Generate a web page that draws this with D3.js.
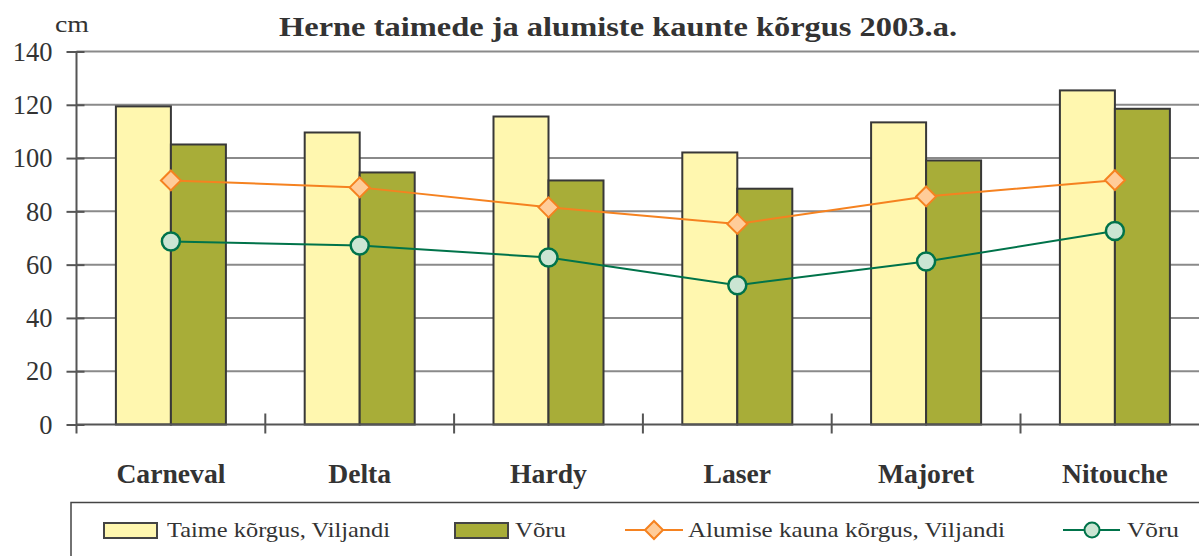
<!DOCTYPE html>
<html><head><meta charset="utf-8">
<script src="https://cdn.jsdelivr.net/npm/d3@7"></script>
<style>
html,body{margin:0;padding:0;background:#fff;overflow:hidden}
svg{display:block}
svg text{font-family:'Liberation Serif','Times New Roman',serif !important}
</style></head>
<body>
<svg id="chart" width="1199" height="556"></svg>
<script>
const categories = ["Carneval","Delta","Hardy","Laser","Majoret","Nitouche"];
const taimeViljandi = [119.4, 109.6, 115.6, 102.1, 113.4, 125.4];
const taimeVoru = [105.1, 94.6, 91.6, 88.5, 99.1, 118.5];
const kaunViljandi = [91.6, 89.0, 81.5, 75.3, 85.6, 91.7];
const kaunVoru = [68.7, 67.2, 62.7, 52.3, 61.2, 72.6];
const yTicks = [0,20,40,60,80,100,120,140];
const seriesNames = ["Taime kõrgus, Viljandi","Võru","Alumise kauna kõrgus, Viljandi","Võru"];
const titleText = "Herne taimede ja alumiste kaunte kõrgus 2003.a.";
const unitText = "cm";

const svg = d3.select("#chart");
const left = 76.5, bandW = 188.8;
const x = d3.scaleBand().domain(categories).range([left, left + bandW*categories.length]).paddingInner(0).paddingOuter(0);
const y = d3.scaleLinear().domain([0,140]).range([424.5, 51.5]);
const barW = 55;

function squeeze(sel, factor){
  sel.each(function(){
    const w = this.getComputedTextLength();
    d3.select(this).attr("textLength", w*factor).attr("lengthAdjust","spacingAndGlyphs");
  });
}

// gridlines
svg.append("g").selectAll("line").data(yTicks.filter(d=>d>0)).join("line")
  .attr("x1", left).attr("x2", 1199)
  .attr("y1", d=>y(d)).attr("y2", d=>y(d))
  .attr("stroke","#8a8a8a").attr("stroke-width",2);

// bars
const colorsBar = ["#FFF7AF","#A8AD38"];
[taimeViljandi, taimeVoru].forEach((arr, si) => {
  svg.append("g").selectAll("rect").data(arr).join("rect")
    .attr("x", (d,i)=> x(categories[i]) + x.bandwidth()/2 - barW + si*barW)
    .attr("y", d=>y(d))
    .attr("width", barW)
    .attr("height", d=>y(0)-y(d))
    .attr("fill", colorsBar[si])
    .attr("stroke","#383838").attr("stroke-width",2);
});

// y axis
const yAxis = d3.axisLeft(y).tickValues(yTicks).tickSize(10).tickPadding(14);
const gy = svg.append("g").attr("transform",`translate(${left},0)`).call(yAxis);
gy.attr("font-family", null);
gy.select(".domain").attr("stroke","#555").attr("stroke-width",2).attr("d",`M0,${y(140)}V${y(0)}`);
gy.selectAll(".tick line").attr("stroke","#555").attr("stroke-width",2).attr("x2",-10).attr("x1",8);
gy.selectAll(".tick text").attr("font-size",26.5).attr("fill","#333").attr("x",-24).attr("dy","0.33em");

// x axis
const xAxisG = svg.append("g").attr("transform",`translate(0,${y(0)})`);
xAxisG.append("line").attr("x1",left).attr("x2",1199).attr("y1",0).attr("y2",0).attr("stroke","#555").attr("stroke-width",2);
const boundaries = categories.map(c=>x(c)).concat([x(categories[categories.length-1])+x.bandwidth()]);
xAxisG.selectAll("line.tk").data(boundaries).join("line").attr("class","tk")
  .attr("x1",d=>d).attr("x2",d=>d).attr("y1",d=> d===left?0:-11).attr("y2",9)
  .attr("stroke","#555").attr("stroke-width",2);
const catLabels = xAxisG.selectAll("text").data(categories).join("text")
  .attr("x", d=>x(d)+x.bandwidth()/2).attr("y", 58.5)
  .attr("text-anchor","middle").attr("font-weight","bold").attr("font-size",28).attr("fill","#333")
  .text(d=>d);
{
  const w0 = catLabels.filter(d=>d==="Carneval").node().getComputedTextLength();
  squeeze(catLabels, 109/w0);
}

// lines
const line = d3.line().x((d,i)=>x(categories[i])+x.bandwidth()/2).y(d=>y(d));
svg.append("path").datum(kaunViljandi).attr("d",line).attr("fill","none").attr("stroke","#F58220").attr("stroke-width",2);
svg.append("path").datum(kaunVoru).attr("d",line).attr("fill","none").attr("stroke","#00734A").attr("stroke-width",2);
const diamond = (cx,cy,r)=>`M${cx},${cy-r}L${cx+r},${cy}L${cx},${cy+r}L${cx-r},${cy}Z`;
svg.append("g").selectAll("path").data(kaunViljandi).join("path")
  .attr("d",(d,i)=>diamond(x(categories[i])+x.bandwidth()/2, y(d), 10))
  .attr("fill","#FFCC99").attr("stroke","#F58220").attr("stroke-width",2);
svg.append("g").selectAll("circle").data(kaunVoru).join("circle")
  .attr("cx",(d,i)=>x(categories[i])+x.bandwidth()/2).attr("cy",d=>y(d)).attr("r",9)
  .attr("fill","#CBE5D3").attr("stroke","#00734A").attr("stroke-width",2.5);

// title and unit
const title = svg.append("text").attr("x",279).attr("y",36)
  .attr("font-weight","bold").attr("font-size",28).attr("fill","#333").text(titleText);
title.attr("textLength",678).attr("lengthAdjust","spacingAndGlyphs");
svg.append("text").attr("x",55).attr("y",32).attr("font-size",24).attr("fill","#333").text(unitText)
  .attr("textLength",34).attr("lengthAdjust","spacingAndGlyphs");

// legend
const lg = svg.append("g");
lg.append("rect").attr("x",71).attr("y",502.5).attr("width",1140).attr("height",80)
  .attr("fill","#fff").attr("stroke","#444").attr("stroke-width",1.5);
const ly = 530, ty = 537;
const legText = (xx, txt, w) => lg.append("text").attr("x",xx).attr("y",ty).attr("font-size",21).attr("fill","#333")
  .text(txt).attr("textLength",w).attr("lengthAdjust","spacingAndGlyphs");
lg.append("rect").attr("x",104).attr("y",523).attr("width",53).attr("height",15).attr("fill",colorsBar[0]).attr("stroke","#444").attr("stroke-width",2);
legText(167, seriesNames[0], 223);
lg.append("rect").attr("x",455).attr("y",523).attr("width",53).attr("height",15).attr("fill",colorsBar[1]).attr("stroke","#444").attr("stroke-width",2);
legText(515, seriesNames[1], 51);
lg.append("line").attr("x1",625).attr("x2",683).attr("y1",ly).attr("y2",ly).attr("stroke","#F58220").attr("stroke-width",2);
lg.append("path").attr("d",diamond(654,ly,9)).attr("fill","#FFCC99").attr("stroke","#F58220").attr("stroke-width",2);
legText(688, seriesNames[2], 317);
lg.append("line").attr("x1",1063).attr("x2",1120).attr("y1",ly).attr("y2",ly).attr("stroke","#00734A").attr("stroke-width",2);
lg.append("circle").attr("cx",1092).attr("cy",ly).attr("r",7.5).attr("fill","#CBE5D3").attr("stroke","#00734A").attr("stroke-width",2);
legText(1127, seriesNames[3], 52);
</script>
</body></html>
